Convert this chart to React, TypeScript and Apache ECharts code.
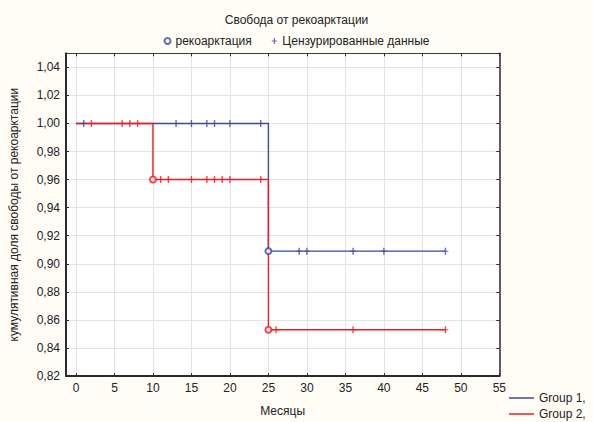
import React, { useEffect, useRef } from "react";
import * as echarts from "echarts";

// ---- data ----
const titleText = "Свобода от рекоарктации";
const xTickValues = [0, 5, 10, 15, 20, 25, 30, 35, 40, 45, 50, 55];

const group1StepTimes = [0, 25, 48];
const group1StepSurv = [1.0, 0.909, 0.909];
const group1EventTimes = [25];
const group1EventSurv = [0.909];
const group1CensTimes = [1, 13, 15, 17, 18, 20, 24, 29, 30, 36, 40, 48];
const group1CensSurv = [1.0, 1.0, 1.0, 1.0, 1.0, 1.0, 1.0, 0.909, 0.909, 0.909, 0.909, 0.909];

const group2StepTimes = [0, 10, 25, 48];
const group2StepSurv = [1.0, 0.96, 0.853, 0.853];
const group2EventTimes = [10, 25];
const group2EventSurv = [0.96, 0.853];
const group2CensTimes = [2, 6, 7, 8, 11, 12, 15, 17, 18, 19, 20, 24, 26, 36, 48];
const group2CensSurv = [1.0, 1.0, 1.0, 1.0, 0.96, 0.96, 0.96, 0.96, 0.96, 0.96, 0.96, 0.96, 0.853, 0.853, 0.853];

const BLUE = "#3a4a9e";
const RED = "#ee1c24";
const FONT = 'Arial, "Liberation Sans", sans-serif';
const PLUS = "path://M2.3,0 H3.7 V3 H6 V4 H3.7 V7 H2.3 V4 H0 V3 H2.3 Z";

const zip = (a: number[], b: number[]) => a.map((v, i) => [v, b[i]]);

export default function App() {
  const ref = useRef<HTMLDivElement>(null);
  useEffect(() => {
    if (!ref.current) return;
    const chart = echarts.init(ref.current, null, { renderer: "svg" });
    const labelFmt = (v: number) => v.toFixed(2).replace(".", ",");
    const legendText = { fontSize: 12, color: "#222", fontFamily: FONT };
    chart.setOption({
      animation: false,
      backgroundColor: "#fffdf6",
      textStyle: { fontFamily: FONT },
      title: {
        text: titleText,
        left: "center",
        top: 9,
        textStyle: { fontSize: 12, fontWeight: "normal", color: "#222", fontFamily: FONT },
      },
      legend: [
        {
          data: ["рекоарктация", "Цензурированные данные"],
          top: 30,
          left: "center",
          itemWidth: 6,
          itemHeight: 6,
          itemGap: 20,
          textStyle: legendText,
        },
        {
          data: ["Group 1,"],
          left: 509,
          top: 392,
          icon: "rect",
          itemWidth: 25,
          itemHeight: 1.5,
          padding: 0,
          textStyle: legendText,
        },
        {
          data: ["Group 2,"],
          left: 509,
          top: 408,
          icon: "rect",
          itemWidth: 25,
          itemHeight: 1.5,
          padding: 0,
          textStyle: legendText,
        },
      ],
      grid: {
        left: 65.7,
        right: 93.7,
        top: 53.3,
        bottom: 41.3,
        show: true,
        backgroundColor: "#ffffff",
        borderWidth: 0,
      },
      xAxis: [
        {
          type: "value",
          min: -1.3,
          max: 55,
          name: "Месяцы",
          nameLocation: "middle",
          nameGap: 29,
          nameTextStyle: { fontSize: 12, color: "#222", fontFamily: FONT },
          axisLine: { show: true, onZero: false, lineStyle: { color: "#2a2a2a", width: 2 } },
          axisTick: { show: true, inside: true, length: 3, customValues: xTickValues, lineStyle: { color: "#2a2a2a" } },
          axisLabel: { customValues: xTickValues, margin: 6, fontSize: 12, color: "#222", fontFamily: FONT },
          splitLine: { show: true, lineStyle: { color: "#e4e4e4", width: 1 } },
        },
        {
          type: "value",
          position: "top",
          min: -1.3,
          max: 55,
          axisLine: { show: true, onZero: false, lineStyle: { color: "#3a3a3a", width: 1 } },
          axisTick: { show: true, inside: true, length: 3, customValues: xTickValues, lineStyle: { color: "#2a2a2a" } },
          axisLabel: { show: false },
          splitLine: { show: false },
        },
      ],
      yAxis: [
        {
          type: "value",
          min: 0.82,
          max: 1.05,
          interval: 0.02,
          name: "кумулятивная доля свободы от рекоарктации",
          nameLocation: "middle",
          nameGap: 46,
          nameTextStyle: { fontSize: 12, color: "#222", fontFamily: FONT },
          axisLine: { show: true, onZero: false, lineStyle: { color: "#2a2a2a", width: 2 } },
          axisTick: { show: true, inside: true, length: 3, lineStyle: { color: "#2a2a2a" } },
          axisLabel: { margin: 6, fontSize: 12, color: "#222", fontFamily: FONT, formatter: labelFmt, showMaxLabel: false },
          splitLine: { show: true, lineStyle: { color: "#e4e4e4", width: 1 } },
        },
        {
          type: "value",
          position: "right",
          min: 0.82,
          max: 1.05,
          interval: 0.02,
          axisLine: { show: true, onZero: false, lineStyle: { color: "#2a2a2a", width: 1.5 } },
          axisTick: { show: true, inside: true, length: 3, lineStyle: { color: "#2a2a2a" } },
          axisLabel: { show: false },
          splitLine: { show: false },
        },
      ],
      series: [
        {
          name: "Group 1,",
          type: "line",
          step: "end",
          color: BLUE,
          symbol: "none",
          lineStyle: { color: BLUE, width: 1.4 },
          data: zip(group1StepTimes, group1StepSurv),
          z: 2,
        },
        {
          name: "Group 2,",
          type: "line",
          step: "end",
          color: RED,
          symbol: "none",
          lineStyle: { color: RED, width: 1.4 },
          data: zip(group2StepTimes, group2StepSurv),
          z: 3,
        },
        {
          name: "рекоарктация",
          type: "scatter",
          symbol: "emptyCircle",
          symbolSize: 6,
          color: BLUE,
          itemStyle: { color: BLUE, borderWidth: 1.2 },
          data: zip(group1EventTimes, group1EventSurv),
          z: 4,
        },
        {
          name: "Цензурированные данные",
          type: "scatter",
          symbol: PLUS,
          symbolSize: [6, 7],
          color: BLUE,
          itemStyle: { color: BLUE },
          data: zip(group1CensTimes, group1CensSurv),
          z: 4,
        },
        {
          name: "рекоарктация",
          type: "scatter",
          symbol: "emptyCircle",
          symbolSize: 6,
          color: RED,
          itemStyle: { color: RED, borderWidth: 1.2 },
          data: zip(group2EventTimes, group2EventSurv),
          z: 5,
        },
        {
          name: "Цензурированные данные",
          type: "scatter",
          symbol: PLUS,
          symbolSize: [6, 7],
          color: RED,
          itemStyle: { color: RED },
          data: zip(group2CensTimes, group2CensSurv),
          z: 5,
        },
      ],
    });
    return () => chart.dispose();
  }, []);
  return (
    <div
      ref={ref}
      style={{ position: "absolute", left: 0, top: 0, width: 593, height: 422 }}
    />
  );
}
